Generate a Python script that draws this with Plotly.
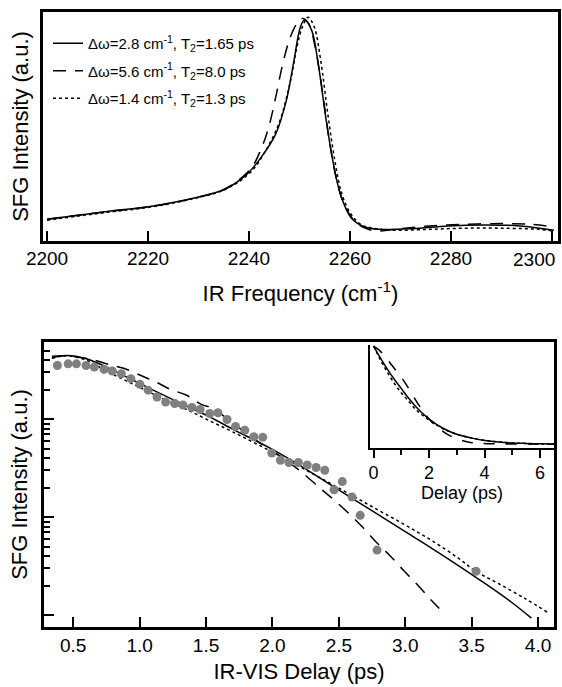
import plotly.graph_objects as go

FONT = "Liberation Sans, Arial, Helvetica, sans-serif"
INK = "#000000"
DOTS = "#808080"

# ── Top panel: SFG spectra (intensity, a.u.) ────────────────────────────────
freq_solid = [2200, 2211.9, 2220.4, 2229.6, 2235.3, 2239.6, 2242.4, 2245.3, 2247.4, 2248.8,
              2250.2, 2251.0, 2252.4, 2253.8, 2255.2, 2256.6, 2258.1, 2260.2, 2263.0, 2265.9,
              2272.3, 2279.4, 2286.5, 2293.6, 2300.4]
spec_solid = [0.095, 0.129, 0.151, 0.190, 0.227, 0.292, 0.365, 0.468, 0.614, 0.775,
              0.936, 0.965, 0.921, 0.760, 0.541, 0.351, 0.205, 0.102, 0.061, 0.051,
              0.054, 0.066, 0.070, 0.066, 0.047]

freq_dash = [2200, 2211.9, 2220.4, 2229.6, 2235.3, 2240.3, 2242.4, 2243.9, 2245.3, 2246.7,
             2248.1, 2249.5, 2250.6, 2251.8, 2253.1, 2254.5, 2255.9, 2257.4, 2258.8, 2260.9,
             2263.0, 2265.2, 2268.7, 2275.8, 2282.9, 2290.0, 2295.7, 2300.4]
spec_dash = [0.095, 0.128, 0.150, 0.190, 0.228, 0.314, 0.402, 0.497, 0.629, 0.775,
             0.885, 0.950, 0.972, 0.950, 0.848, 0.658, 0.439, 0.263, 0.161, 0.088,
             0.056, 0.044, 0.051, 0.066, 0.073, 0.076, 0.073, 0.061]

freq_dot = [2200, 2211.9, 2220.4, 2229.6, 2235.3, 2240.3, 2243.1, 2245.9, 2248.1, 2249.5,
            2250.6, 2251.7, 2252.9, 2254.2, 2255.6, 2257.0, 2258.4, 2260.2, 2262.3, 2264.5,
            2268.7, 2275.8, 2282.9, 2290.0, 2297.2, 2300.4]
spec_dot = [0.091, 0.125, 0.148, 0.188, 0.225, 0.300, 0.387, 0.512, 0.687, 0.848,
            0.936, 0.977, 0.936, 0.789, 0.556, 0.351, 0.205, 0.117, 0.070, 0.056,
            0.047, 0.051, 0.056, 0.056, 0.051, 0.044]

freq_ticks = [2200, 2220, 2240, 2260, 2280, 2300]

labels = ["Δω=2.8 cm<sup>-1</sup>, T<sub>2</sub>=1.65 ps",
          "Δω=5.6 cm<sup>-1</sup>, T<sub>2</sub>=8.0 ps",
          "Δω=1.4 cm<sup>-1</sup>, T<sub>2</sub>=1.3 ps"]

# ── Bottom panel: SFG decay vs IR-VIS delay (log scale) ─────────────────────
delay_pts = [0.381, 0.462, 0.524, 0.597, 0.659, 0.732, 0.794, 0.862, 0.934, 1.002,
             1.064, 1.131, 1.196, 1.264, 1.326, 1.393, 1.455, 1.528, 1.590, 1.658,
             1.722, 1.792, 1.860, 1.927, 1.995, 2.060, 2.124, 2.195, 2.262, 2.329,
             2.394, 2.464, 2.526, 2.599, 2.661, 2.788, 3.533]
sfg_pts = [352, 366, 366, 352, 339, 321, 309, 290, 258, 226,
           197, 168, 149, 144, 139, 131, 125, 114, 116, 99,
           84, 77, 66, 65, 45, 38, 36, 36, 34, 32,
           30, 19, 23, 16, 10.4, 4.6, 2.8]

delay_solid = [0.34, 0.45, 0.6, 0.75, 0.9, 1.05, 1.2, 1.35, 1.5, 1.7, 2.0,
               2.2, 2.4, 2.6, 2.8, 3.0, 3.2, 3.4, 3.6, 3.8, 3.95]
sfg_solid = [422, 445, 412, 339, 269, 214, 170, 136, 110, 79, 49,
             34, 23, 15.5, 10.5, 7.1, 4.8, 3.2, 2.1, 1.35, 0.93]

delay_dash = [0.34, 0.45, 0.65, 0.78, 0.88, 1.0, 1.12, 1.23, 1.35, 1.46, 1.55, 1.7,
              1.91, 2.05, 2.2, 2.37, 2.47, 2.59, 2.68, 2.79, 2.88, 2.99, 3.1, 3.2, 3.29]
sfg_dash = [437, 442, 401, 356, 330, 281, 240, 201, 176, 142, 129, 91,
            56.5, 42.7, 30.2, 19.1, 14.7, 10.4, 7.85, 5.4, 4.1, 2.83, 1.98, 1.40, 1.05]

delay_dot = [0.34, 0.45, 0.6, 0.75, 0.9, 1.05, 1.2, 1.35, 1.5, 1.7, 2.0,
             2.2, 2.4, 2.6, 2.8, 3.0, 3.2, 3.4, 3.53, 3.7, 3.9, 4.07]
sfg_dot = [417, 442, 398, 309, 245, 195, 155, 126, 100, 74, 46,
           33, 23.4, 16.6, 11.7, 8.3, 5.75, 3.8, 2.8, 2.1, 1.48, 1.07]

log_major = [1, 10, 100]
log_minor = [2, 3, 4, 5, 6, 7, 8, 9, 20, 30, 40, 50, 60, 70, 80, 90, 200, 300, 400, 500, 600]

# ── Inset: full decay, linear scale ─────────────────────────────────────────
inset_t = [0, 0.25, 0.5, 0.75, 1.0, 1.25, 1.5, 1.75, 2.0, 2.5, 3.0, 3.5, 4.0, 4.5, 5.0, 5.5, 6.0, 6.5]
inset_solid = [1.0, 0.88, 0.77, 0.67, 0.58, 0.49, 0.41, 0.34, 0.28, 0.19, 0.13, 0.095,
               0.07, 0.055, 0.045, 0.04, 0.036, 0.034]
inset_dot = [1.0, 0.86, 0.74, 0.63, 0.54, 0.46, 0.38, 0.32, 0.27, 0.185, 0.13, 0.095,
             0.07, 0.055, 0.045, 0.04, 0.036, 0.035]
inset_t_dash = [0, 0.2, 0.4, 0.6, 0.8, 1.0, 1.2, 1.4, 1.6, 1.8, 2.0, 2.3, 2.6, 3.0, 3.4,
                3.8, 4.5, 5.5, 6.5]
inset_dash = [1.0, 0.96, 0.9, 0.83, 0.76, 0.69, 0.61, 0.52, 0.43, 0.35, 0.28, 0.2, 0.14,
              0.085, 0.055, 0.042, 0.036, 0.034, 0.033]

STYLES = [dict(color=INK, width=1.5),
          dict(color=INK, width=1.5, dash="13px,9px"),
          dict(color=INK, width=1.5, dash="dot")]

fig = go.Figure()

# top spectra
for i, (x, y) in enumerate([(freq_solid, spec_solid), (freq_dash, spec_dash), (freq_dot, spec_dot)]):
    fig.add_trace(go.Scatter(x=x, y=y, mode="lines", line=STYLES[i], name=labels[i],
                             legendgroup=f"g{i}", line_shape="spline",
                             xaxis="x", yaxis="y"))

# bottom decay curves + data
for i, (x, y) in enumerate([(delay_solid, sfg_solid), (delay_dash, sfg_dash), (delay_dot, sfg_dot)]):
    fig.add_trace(go.Scatter(x=x, y=y, mode="lines", line=STYLES[i], showlegend=False,
                             line_shape="spline", xaxis="x2", yaxis="y2"))
fig.add_trace(go.Scatter(x=delay_pts, y=sfg_pts, mode="markers", showlegend=False,
                         marker=dict(color=DOTS, size=9, line=dict(width=0)),
                         xaxis="x2", yaxis="y2"))

# inset
for i, (x, y) in enumerate([(inset_t, inset_solid), (inset_t_dash, inset_dash), (inset_t, inset_dot)]):
    st = dict(STYLES[i])
    if i == 1:
        st["dash"] = "11px,11px"
    fig.add_trace(go.Scatter(x=x, y=y, mode="lines", line=st, showlegend=False,
                             line_shape="spline", xaxis="x3", yaxis="y3"))

W, H = 562, 687
def px_x(a, b):
    return [a / W, b / W]
def px_y(top, bot):
    return [1 - bot / H, 1 - top / H]

frame = dict(showline=True, linecolor=INK, linewidth=2.5, mirror=True,
             showgrid=False, zeroline=False, automargin=False)
tickfont = dict(family=FONT, size=19, color=INK)
titlefont = dict(family=FONT, size=22, color=INK)

fig.update_layout(
    width=W, height=H,
    margin=dict(l=0, r=0, t=0, b=0, autoexpand=False),
    paper_bgcolor="white", plot_bgcolor="white",
    font=dict(family=FONT, color=INK),
    xaxis=dict(domain=px_x(43, 558), range=[2199.2, 2301.2], anchor="y",
               tickvals=freq_ticks,
               ticktext=[str(v) for v in freq_ticks[:-1]] + [""],
               ticks="inside", ticklen=10, tickwidth=2, tickcolor=INK,
               tickfont=tickfont, ticklabelstandoff=-2,
               title=dict(text="IR Frequency (cm<sup>-1</sup>)", font=titlefont, standoff=19),
               **frame),
    yaxis=dict(domain=px_y(12, 241), range=[0, 1.0], anchor="x",
               showticklabels=False, ticks="",
               title=dict(text="SFG Intensity (a.u.)", font=titlefont, standoff=6),
               **frame),
    xaxis2=dict(domain=px_x(44, 554), range=[0.28, 4.12], anchor="y2",
                tickvals=[0.5, 1.0, 1.5, 2.0, 2.5, 3.0, 3.5, 4.0],
                ticktext=["0.5", "1.0", "1.5", "2.0", "2.5", "3.0", "3.5", "4.0"],
                ticks="inside", ticklen=10, tickwidth=2, tickcolor=INK,
                tickfont=tickfont, ticklabelstandoff=-1,
                title=dict(text="IR-VIS Delay (ps)", font=titlefont, standoff=10),
                **frame),
    yaxis2=dict(domain=px_y(342, 627), type="log", range=[-0.122, 2.786], anchor="x2",
                tickmode="array", tickvals=log_major, showticklabels=False,
                ticks="inside", ticklen=10, tickwidth=2, tickcolor=INK,
                minor=dict(tickmode="array", tickvals=log_minor,
                           ticks="inside", ticklen=6, tickwidth=2, tickcolor=INK),
                title=dict(text="SFG Intensity (a.u.)", font=titlefont, standoff=8),
                **frame),
    xaxis3=dict(domain=px_x(370, 554), range=[-0.13, 6.5], anchor="y3",
                tickvals=[0, 2, 4, 6], ticks="outside", ticklen=8, tickwidth=2,
                tickcolor=INK, tickfont=dict(family=FONT, size=18, color=INK),
                minor=dict(dtick=1, ticks="outside", ticklen=5, tickwidth=2, tickcolor=INK),
                showline=True, linecolor=INK, linewidth=2, showgrid=False, zeroline=False,
                automargin=False,
                title=dict(text="Delay (ps)", font=dict(family=FONT, size=18, color=INK),
                           standoff=4)),
    yaxis3=dict(domain=px_y(345, 447.5), range=[0, 1.01], anchor="x3",
                showticklabels=False, ticks="", automargin=False,
                showline=True, linecolor=INK, linewidth=2, showgrid=False, zeroline=False),
    legend=dict(x=48 / W, y=1 - 27 / H, xanchor="left", yanchor="top",
                bgcolor="rgba(0,0,0,0)", font=dict(family=FONT, size=15, color=INK),
                tracegroupgap=5, itemwidth=30),
    showlegend=True,
)

# last frequency label sits flush with the right frame, as in the original
fig.add_annotation(text=str(freq_ticks[-1]), xref="paper", yref="paper",
                   x=557 / W, y=1 - 259 / H, xanchor="right", yanchor="middle",
                   showarrow=False, font=tickfont)

fig.write_html("out.html", config={"displayModeBar": False},
               post_script="document.body.style.margin='0';")
